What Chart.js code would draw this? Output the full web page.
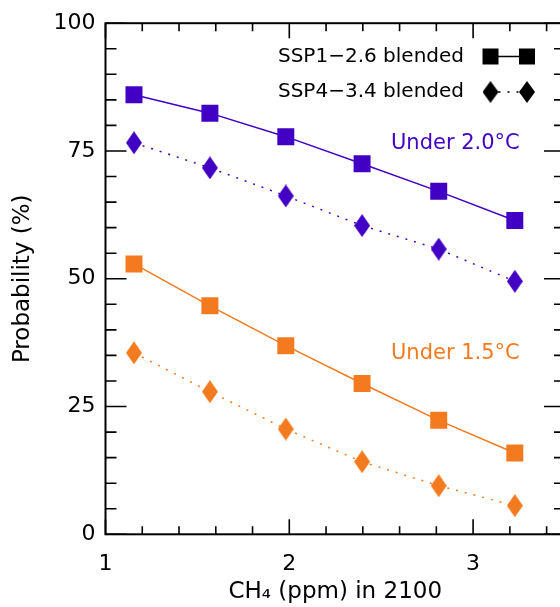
<!DOCTYPE html>
<html>
<head>
<meta charset="utf-8">
<script src="https://cdn.jsdelivr.net/npm/chart.js@4/dist/chart.umd.min.js"></script>
<style>
  html, body { margin: 0; padding: 0; background: #fff; width: 560px; height: 607px; overflow: hidden; }
  #wrap { width: 580px; height: 607px; }
</style>
</head>
<body>
<div id="wrap"><canvas id="probChart" width="580" height="607"></canvas></div>
<script>
// ---- data ----
const ch4Values = [1.155, 1.568, 1.981, 2.396, 2.813, 3.227];
const ssp126Under20 = [86.0, 82.4, 77.8, 72.5, 67.1, 61.4];
const ssp434Under20 = [76.6, 71.7, 66.2, 60.4, 55.8, 49.5];
const ssp126Under15 = [52.9, 44.7, 36.9, 29.5, 22.3, 15.9];
const ssp434Under15 = [35.5, 27.9, 20.6, 14.2, 9.5, 5.6];

const xTicks = [1, 2, 3];
const yTicks = [0, 25, 50, 75, 100];
const legendLabels = ['SSP1\u22122.6 blended', 'SSP4\u22123.4 blended'];
const thresholdLabels = ['Under 2.0\u00B0C', 'Under 1.5\u00B0C'];

const PURPLE = '#4100C4';
const ORANGE = '#F47A20';
const FONT = "'DejaVu Sans', sans-serif";

function toPoints(ys) {
  return ch4Values.map((x, i) => ({ x: x, y: ys[i] }));
}

// tall diamond marker used for the SSP4-3.4 runs
function makeDiamond(color, w, h) {
  const c = document.createElement('canvas');
  c.width = w;
  c.height = h;
  const g = c.getContext('2d');
  g.fillStyle = color;
  g.beginPath();
  g.moveTo(w / 2, 0);
  g.lineTo(w, h / 2);
  g.lineTo(w / 2, h);
  g.lineTo(0, h / 2);
  g.closePath();
  g.fill();
  return c;
}

function squareSet(ys, color) {
  return {
    data: toPoints(ys),
    borderColor: color,
    backgroundColor: color,
    borderWidth: 1.5,
    pointStyle: 'rect',
    pointRadius: 12,
    pointBorderWidth: 0,
    pointBackgroundColor: color
  };
}

function diamondSet(ys, color) {
  return {
    data: toPoints(ys),
    borderColor: color,
    backgroundColor: color,
    borderWidth: 1.5,
    borderDash: [2, 7],
    pointStyle: makeDiamond(color, 16, 23),
    pointRadius: 12
  };
}

// frame, inward ticks, legend and the two threshold labels
const frameAndNotes = {
  id: 'frameAndNotes',
  afterDraw(chart) {
    const { ctx, chartArea: a, scales: { x, y } } = chart;
    ctx.save();
    ctx.strokeStyle = '#000';
    ctx.lineWidth = 2;
    ctx.strokeRect(a.left, a.top, a.right - a.left, a.bottom - a.top);

    ctx.lineWidth = 1.6;
    ctx.beginPath();
    for (let i = 0; i <= 12; i++) {
      const v = 1 + i * 0.2;
      if (v > x.max + 1e-6) break;
      const px = x.getPixelForValue(v);
      const len = (i % 5 === 0) ? 15 : 8;
      ctx.moveTo(px, a.bottom); ctx.lineTo(px, a.bottom - len);
      ctx.moveTo(px, a.top); ctx.lineTo(px, a.top + len);
    }
    for (let v = 0; v <= 100; v += 5) {
      const py = y.getPixelForValue(v);
      const len = (v % 25 === 0) ? 21 : 11;
      ctx.moveTo(a.left, py); ctx.lineTo(a.left + len, py);
      ctx.moveTo(a.right, py); ctx.lineTo(a.right - len, py);
    }
    ctx.stroke();

    // legend
    ctx.font = '20px ' + FONT;
    ctx.fillStyle = '#000';
    ctx.textAlign = 'right';
    ctx.textBaseline = 'middle';
    const rows = [56.5, 92];
    const mx = [490.5, 527];
    ctx.fillText(legendLabels[0], 464, rows[0]);
    ctx.fillText(legendLabels[1], 464, rows[1]);

    ctx.lineWidth = 1.5;
    ctx.beginPath();
    ctx.moveTo(mx[0], rows[0]); ctx.lineTo(mx[1], rows[0]);
    ctx.stroke();
    mx.forEach(cx => ctx.fillRect(cx - 8, rows[0] - 8, 16, 16));

    ctx.setLineDash([2, 7]);
    ctx.beginPath();
    ctx.moveTo(mx[0] + 8, rows[1]); ctx.lineTo(mx[1] - 8, rows[1]);
    ctx.stroke();
    ctx.setLineDash([]);
    const blackDiamond = makeDiamond('#000', 16, 22);
    mx.forEach(cx => ctx.drawImage(blackDiamond, cx - 8, rows[1] - 11));

    // threshold labels
    ctx.font = '21px ' + FONT;
    ctx.fillStyle = PURPLE;
    ctx.fillText(thresholdLabels[0], x.getPixelForValue(3.254), y.getPixelForValue(76.4));
    ctx.fillStyle = ORANGE;
    ctx.fillText(thresholdLabels[1], x.getPixelForValue(3.254), y.getPixelForValue(35.3));
    ctx.restore();
  }
};

new Chart(document.getElementById('probChart'), {
  type: 'line',
  data: {
    datasets: [
      squareSet(ssp126Under20, PURPLE),
      diamondSet(ssp434Under20, PURPLE),
      squareSet(ssp126Under15, ORANGE),
      diamondSet(ssp434Under15, ORANGE)
    ]
  },
  options: {
    responsive: false,
    animation: false,
    layout: { padding: { top: 14, right: 15, left: 0, bottom: 0 } },
    plugins: {
      legend: { display: false },
      tooltip: { enabled: false }
    },
    scales: {
      x: {
        type: 'linear',
        min: 1,
        max: 3.5,
        afterFit: s => { s.height = 72.7; },
        afterBuildTicks: s => { s.ticks = xTicks.map(v => ({ value: v })); },
        grid: { display: false, drawTicks: false },
        border: { display: false },
        ticks: {
          color: '#000',
          padding: 16.5,
          maxRotation: 0,
          font: { family: FONT, size: 22 }
        },
        title: {
          display: true,
          text: 'CH\u2084 (ppm) in 2100',
          color: '#000',
          padding: { top: 0, bottom: 1.5 },
          font: { family: FONT, size: 23 }
        }
      },
      y: {
        min: 0,
        max: 100,
        afterFit: s => { s.width = 105.5; },
        afterBuildTicks: s => { s.ticks = yTicks.map(v => ({ value: v })); },
        grid: { display: false, drawTicks: false },
        border: { display: false },
        ticks: {
          color: '#000',
          padding: 10,
          font: { family: FONT, size: 22 }
        },
        title: {
          display: true,
          text: 'Probability (%)',
          color: '#000',
          padding: { top: 9, bottom: 0 },
          font: { family: FONT, size: 23 }
        }
      }
    }
  },
  plugins: [frameAndNotes]
});
</script>
</body>
</html>
